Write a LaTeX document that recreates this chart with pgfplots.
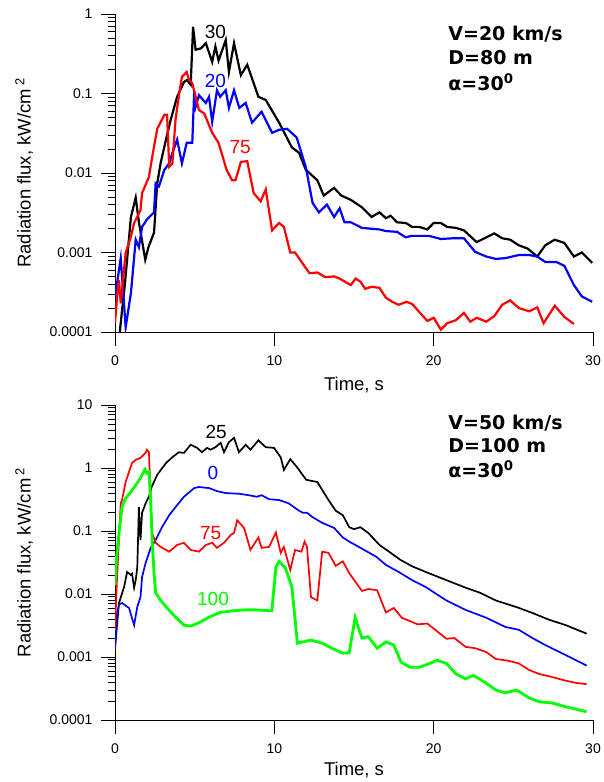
\documentclass[border=0pt]{standalone}
\usepackage{fontspec}
\setmainfont{Liberation Sans}
\newfontfamily\parfont{DejaVu Sans}
\usepackage{pgfplots}
\pgfplotsset{compat=1.18}

\definecolor{cgreen}{RGB}{0,255,0}
\definecolor{cblue}{RGB}{0,0,255}
\definecolor{cred}{RGB}{255,0,0}

\pgfplotsset{
  every axis/.append style={
    scale only axis, width=478bp,
    xmin=0, xmax=30,
    axis x line*=bottom, axis y line*=left,
    axis line style={-, line width=0.8bp},
    tick align=outside, major tick length=14bp, minor tick length=7bp,
    every tick/.style={black, line width=0.8bp},
    xtick={0,10,20,30}, xticklabels={0,10,20,30},
    tick label style={font=\fontsize{14bp}{16bp}\selectfont},
    xticklabel shift=6bp, yticklabel shift=5bp,
    label style={font=\fontsize{18.5bp}{22bp}\selectfont},
    xlabel={Time, s},
    ylabel={Radiation flux, kW/cm\,\textsuperscript{2}},
    ylabel style={at={(axis description cs:-0.19,0.5)}, anchor=center},
  },
}
\tikzset{
  numlbl/.style={font=\fontsize{19bp}{22bp}\selectfont},
  parlbl/.style={font=\parfont\bfseries\fontsize{19bp}{22bp}\selectfont, anchor=west, inner sep=0pt},
}

\begin{document}
\begin{tikzpicture}
\useasboundingbox (0,0) rectangle (604bp,-782bp);

% upper panel: V=20 km/s
\begin{axis}[ymode=log, at={(115bp,-332bp)}, anchor=south west, height=318bp,
    ymin=1e-4, ymax=1,
    ytick={1e-4,1e-3,1e-2,1e-1,1}, yticklabels={0.0001,0.001,0.01,0.1,1},
    xlabel style={at={(axis description cs:0.5,-0.167)}, anchor=center}]
\addplot[black, line width=2.2bp] coordinates {
(0.3,1.0e-4) (0.63,4.2e-4) (1.0,2.8e-3) (1.3,4.9e-3) (1.5,2.4e-3) (1.9,8.1e-4)
(2.1,1.17e-3) (2.45,1.78e-3) (2.65,7.4e-3) (2.87,1.35e-2) (3.2,2.63e-2) (3.5,4.7e-2)
(3.9,9.1e-2) (4.33,0.14) (4.53,0.148) (4.75,0.129) (4.9,0.69) (5.06,0.355) (5.4,0.37)
(5.7,0.43) (6.1,0.25) (6.3,0.39) (6.5,0.26) (6.95,0.47) (7.15,0.186) (7.47,0.43)
(7.9,0.17) (8.3,0.23) (9.0,0.091) (9.46,0.083) (10.3,0.043) (11.1,0.021) (11.55,0.018)
(11.97,0.011) (12.7,8.1e-3) (13.1,5.2e-3) (13.75,6.5e-3) (14.2,5.2e-3) (14.8,4.6e-3)
(15.5,3.7e-3) (16.1,2.8e-3) (16.6,3.2e-3) (17.0,2.7e-3) (17.3,2.9e-3) (17.7,2.4e-3)
(18.25,2.35e-3) (18.65,2.1e-3) (19.1,2.1e-3) (19.6,1.95e-3) (20.0,2.35e-3) (20.45,2.35e-3)
(20.85,2.1e-3) (21.4,2.04e-3) (21.9,1.9e-3) (22.7,1.35e-3) (23.3,1.55e-3) (23.8,1.74e-3)
(24.3,1.51e-3) (24.8,1.45e-3) (25.35,1.23e-3) (25.9,1.12e-3) (26.5,8.9e-4) (27.0,1.23e-3)
(27.6,1.45e-3) (28.2,1.32e-3) (28.8,8.9e-4) (29.3,1.0e-3) (29.95,7.4e-4)
};
\addplot[cblue, line width=2.2bp] coordinates {
(0,2.75e-4) (0.36,8.5e-4) (0.67,1.15e-4) (1.0,3.1e-4) (1.3,1.45e-3) (1.5,1.17e-3)
(1.7,2.1e-3) (2.0,2.6e-3) (2.45,3.2e-3) (2.55,7.4e-3) (2.76,6.8e-3) (3.1,1.1e-2)
(3.4,1.32e-2) (3.6,1.78e-2) (3.9,2.63e-2) (4.2,1.32e-2) (4.5,2.4e-2) (4.85,2.4e-2)
(4.97,0.105) (5.06,0.068) (5.27,0.095) (5.7,0.076) (5.9,0.091) (6.1,0.044) (6.4,0.11)
(6.6,0.091) (6.95,0.11) (7.15,0.066) (7.47,0.11) (7.8,0.066) (8.2,0.076) (8.6,0.043)
(9.2,0.059) (9.86,0.032) (10.3,0.035) (10.8,0.036) (11.4,0.028) (11.97,0.012)
(12.4,4.2e-3) (12.8,3.2e-3) (13.3,4.0e-3) (13.75,2.8e-3) (14.1,3.6e-3) (14.4,2.4e-3)
(14.8,2.4e-3) (15.5,2.04e-3) (16.6,1.95e-3) (17.0,1.86e-3) (17.7,1.82e-3) (18.25,1.55e-3)
(18.6,1.62e-3) (19.7,1.62e-3) (20.45,1.48e-3) (21.2,1.51e-3) (21.9,1.51e-3) (22.6,1.02e-3)
(23.3,8.9e-4) (23.9,8.3e-4) (24.5,8.5e-4) (25.35,9.3e-4) (26.0,9.3e-4) (26.5,8.9e-4)
(27.0,7.6e-4) (27.7,7.6e-4) (28.2,6.8e-4) (28.8,3.9e-4) (29.3,2.8e-4) (29.95,2.4e-4)
};
\addplot[cred, line width=2.2bp] coordinates {
(0,1.29e-4) (0.13,2.75e-4) (0.25,4.5e-4) (0.36,2.3e-4) (0.67,1.0e-3) (1.0,1.58e-3)
(1.2,2.35e-3) (1.6,3.4e-3) (1.7,5.6e-3) (2.13,8.9e-3) (2.3,1.45e-2) (2.65,3.6e-2)
(3.1,5.4e-2) (3.27,5.4e-2) (3.4,1.2e-2) (3.6,1.32e-2) (3.8,4.7e-2) (4.0,9.1e-2)
(4.2,0.162) (4.5,0.186) (4.65,0.148) (4.85,0.135) (5.06,0.091) (5.27,0.062) (5.6,0.056)
(6.1,0.032) (6.5,0.024) (7.0,0.011) (7.35,8.1e-3) (7.56,8.1e-3) (7.9,1.38e-2) (8.3,1.41e-2)
(8.7,5.6e-3) (9.14,4.4e-3) (9.46,6.2e-3) (9.86,1.9e-3) (10.3,2.35e-3) (10.6,2.1e-3)
(11.0,1.0e-3) (11.3,1.0e-3) (12.2,5.5e-4) (12.7,5.6e-4) (13.2,4.9e-4) (13.75,5.0e-4)
(14.1,4.7e-4) (14.8,3.9e-4) (15.1,4.7e-4) (15.4,4.3e-4) (15.7,3.5e-4) (16.1,3.7e-4)
(16.6,3.6e-4) (17.0,2.7e-4) (17.4,2.4e-4) (17.8,2.2e-4) (18.3,2.4e-4) (18.65,2.25e-4)
(19.1,1.78e-4) (19.6,1.38e-4) (20.0,1.51e-4) (20.45,1.07e-4) (20.85,1.29e-4) (21.4,1.41e-4)
(21.9,1.74e-4) (22.3,1.35e-4) (22.7,1.51e-4) (23.3,1.35e-4) (23.8,1.58e-4) (24.3,2.2e-4)
(24.8,2.5e-4) (25.35,2.0e-4) (26.0,1.82e-4) (26.5,2.04e-4) (26.9,1.29e-4) (27.6,2.14e-4)
(28.2,1.55e-4) (28.8,1.26e-4)
};
\node[numlbl, text=black] at (axis cs:6.3,0.59) {30};
\node[numlbl, text=cblue] at (axis cs:6.3,0.144) {20};
\node[numlbl, text=cred] at (axis cs:7.85,0.021) {75};
\node[parlbl] at (rel axis cs:0.697,0.937) {V=20 km/s};
\node[parlbl] at (rel axis cs:0.697,0.862) {D=80 m};
\node[parlbl] at (rel axis cs:0.697,0.786) {α=30\textsuperscript{0}};
\end{axis}

% lower panel: V=50 km/s
\begin{axis}[ymode=log, at={(115bp,-720bp)}, anchor=south west, height=315bp,
    ymin=1e-4, ymax=10,
    ytick={1e-4,1e-3,1e-2,1e-1,1,10}, yticklabels={0.0001,0.001,0.01,0.1,1,10},
    xlabel style={at={(axis description cs:0.5,-0.159)}, anchor=center}]
\addplot[black, line width=1.7bp] coordinates {
(0,1.38e-3) (0.25,7.2e-3) (0.57,1.29e-2) (0.76,2.24e-2) (1.0,2.0e-2) (1.07,2.1e-2)
(1.2,1.26e-2) (1.3,1.66e-2) (1.4,2.7e-2) (1.5,0.24) (1.6,0.072) (1.7,0.195) (1.92,0.275)
(2.13,0.35) (2.3,0.5) (2.65,0.78) (3.2,1.2) (3.6,1.48) (4.0,1.78) (4.33,1.74) (4.75,2.34)
(5.15,2.09) (5.46,1.78) (5.78,2.09) (6.0,1.95) (6.3,2.14) (6.63,2.51) (6.84,1.78)
(7.15,2.57) (7.47,3.02) (7.78,1.78) (8.2,2.34) (8.5,1.95) (9.0,2.75) (9.46,2.14)
(9.98,2.09) (10.4,1.48) (10.6,0.93) (11.0,1.38) (11.4,1.05) (12.0,0.65) (12.7,0.60)
(13.0,0.45) (13.4,0.31) (13.85,0.21) (14.3,0.178) (14.7,0.115) (15.0,0.107) (15.4,0.115)
(15.9,0.093) (16.6,0.060) (17.2,0.047) (17.9,0.035) (18.65,0.0275) (19.5,0.0224)
(20.8,0.0166) (22.0,0.0126) (22.9,0.0105) (23.9,7.9e-3) (25.2,6.2e-3) (26.2,5.0e-3)
(27.25,3.9e-3) (28.3,3.2e-3) (29.6,2.35e-3)
};
\addplot[cblue, line width=1.7bp] coordinates {
(0,1.29e-3) (0.1,4.5e-3) (0.25,6.8e-3) (0.44,7.2e-3) (0.88,6.0e-3) (1.2,3.2e-3)
(1.4,6.3e-3) (1.6,8.9e-3) (1.7,0.0186) (1.92,0.031) (2.24,0.054) (2.55,0.072) (2.95,0.115)
(3.4,0.178) (3.8,0.24) (4.33,0.35) (4.97,0.48) (5.27,0.50) (5.9,0.48) (6.4,0.43)
(6.95,0.40) (7.8,0.39) (8.4,0.37) (8.9,0.35) (9.2,0.37) (9.67,0.32) (10.3,0.31)
(10.9,0.275) (11.55,0.21) (11.8,0.195) (12.05,0.195) (12.4,0.166) (13.0,0.135)
(13.75,0.112) (14.3,0.079) (14.7,0.068) (15.3,0.056) (16.4,0.039) (17.0,0.029)
(17.8,0.0224) (18.65,0.0166) (19.5,0.0129) (20.8,7.9e-3) (22.0,5.6e-3) (23.3,4.2e-3)
(24.5,3.0e-3) (25.35,2.7e-3) (26.2,2.0e-3) (27.0,1.55e-3) (28.3,1.07e-3) (29.6,7.3e-4)
};
\addplot[cred, line width=1.7bp] coordinates {
(0,2.7e-3) (0.13,0.0186) (0.36,0.275) (0.44,0.31) (0.67,0.60) (0.88,0.87) (1.07,1.2)
(1.3,1.35) (1.6,1.45) (1.92,1.74) (2.0,1.95) (2.13,1.78) (2.24,0.31) (2.33,0.093)
(2.55,0.065) (2.87,0.056) (3.4,0.047) (3.9,0.060) (4.33,0.065) (4.75,0.050) (5.27,0.047)
(5.7,0.060) (6.1,0.065) (6.4,0.054) (6.84,0.065) (7.27,0.087) (7.47,0.093) (7.67,0.148)
(8.1,0.112) (8.5,0.050) (9.0,0.079) (9.2,0.054) (9.67,0.056) (10.1,0.095) (10.4,0.045)
(10.6,0.056) (11.0,0.024) (11.3,0.050) (11.7,0.047) (11.9,0.068) (12.05,0.056)
(12.3,8.9e-3) (12.7,7.9e-3) (13.0,0.047) (13.4,0.045) (13.85,0.028) (14.3,0.033)
(14.7,0.0214) (15.1,0.0155) (15.5,0.0112) (15.9,0.012) (16.45,0.0115) (17.0,5.1e-3)
(17.5,6.0e-3) (18.0,4.2e-3) (19.0,3.3e-3) (19.6,3.4e-3) (20.1,2.7e-3) (20.8,1.95e-3)
(21.3,2.0e-3) (22.0,1.45e-3) (22.6,1.38e-3) (23.3,1.2e-3) (23.9,9.3e-4) (24.7,8.7e-4)
(25.35,7.9e-4) (26.0,6.2e-4) (26.6,5.4e-4) (27.45,4.8e-4) (28.3,4.2e-4) (28.9,3.9e-4)
(29.6,3.7e-4)
};
\addplot[cgreen, line width=2.8bp] coordinates {
(0,0.0138) (0.1,0.039) (0.25,0.093) (0.44,0.24) (0.67,0.33) (1.0,0.42) (1.4,0.58)
(1.7,0.78) (1.88,0.95) (2.0,0.83) (2.13,0.87) (2.24,0.31) (2.33,0.072) (2.45,0.0214)
(2.55,0.0105) (2.87,7.9e-3) (3.27,6.0e-3) (3.8,4.3e-3) (4.33,3.2e-3) (4.75,3.1e-3)
(5.27,3.5e-3) (5.9,4.3e-3) (6.6,5.1e-3) (7.35,5.4e-3) (8.2,5.6e-3) (8.8,5.6e-3)
(9.84,5.4e-3) (10.1,0.027) (10.3,0.033) (10.7,0.0257) (11.1,0.0129) (11.45,1.66e-3)
(12.3,1.86e-3) (13.0,1.66e-3) (13.6,1.38e-3) (14.3,1.15e-3) (14.7,1.17e-3) (15.07,4.2e-3)
(15.5,2.0e-3) (15.9,2.1e-3) (16.45,1.38e-3) (17.0,1.74e-3) (17.5,1.55e-3) (17.95,8.3e-4)
(18.5,6.9e-4) (19.1,6.9e-4) (19.7,7.8e-4) (20.2,8.9e-4) (20.8,7.9e-4) (21.4,5.4e-4)
(22.0,4.5e-4) (22.5,5.1e-4) (23.2,4.0e-4) (23.9,3.0e-4) (24.5,2.7e-4) (25.2,3.0e-4)
(26.0,2.24e-4) (26.6,1.95e-4) (27.45,1.86e-4) (28.3,1.62e-4) (29.6,1.35e-4)
};
\node[numlbl, text=black] at (axis cs:6.35,3.7) {25};
\node[numlbl, text=cblue] at (axis cs:6.15,0.85) {0};
\node[numlbl, text=cred] at (axis cs:6.0,0.093) {75};
\node[numlbl, text=cgreen] at (axis cs:6.15,0.0083) {100};
\node[parlbl] at (rel axis cs:0.697,0.943) {V=50 km/s};
\node[parlbl] at (rel axis cs:0.697,0.870) {D=100 m};
\node[parlbl] at (rel axis cs:0.697,0.797) {α=30\textsuperscript{0}};
\end{axis}
\end{tikzpicture}
\end{document}
